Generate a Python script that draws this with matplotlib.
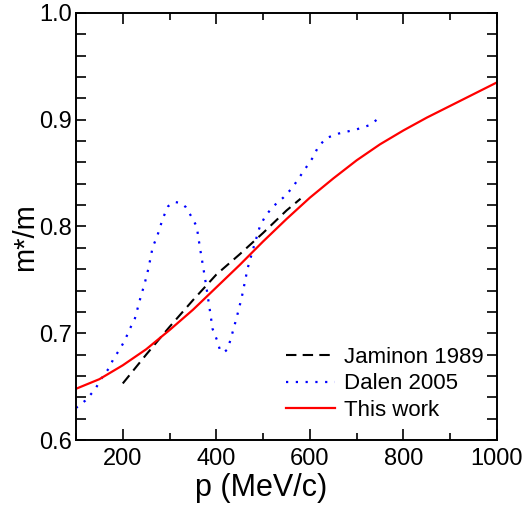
import matplotlib
matplotlib.use("Agg")
import matplotlib.pyplot as plt
from matplotlib.ticker import MultipleLocator

plt.rcParams['font.family'] = ['Liberation Sans', 'DejaVu Sans']

# Jaminon 1989 (dashed)
jam_p = [200, 250, 300, 350, 400, 450, 500, 550, 580]
jam_m = [0.653, 0.680, 0.706, 0.731, 0.755, 0.774, 0.794, 0.815, 0.826]

# Dalen 2005 (dotted)
dal_p = [100, 120, 140, 155, 170, 180, 195, 205, 215, 226, 237, 247, 255, 264,
         273, 280, 287, 297, 310, 325, 335, 347, 358, 365, 376, 386, 392, 401,
         408, 416, 424, 431, 443, 454, 467, 480, 493, 505, 522, 543, 562, 579,
         593, 607, 618, 636, 661, 700, 728, 746]
dal_m = [0.630, 0.637, 0.647, 0.658, 0.667, 0.676, 0.686, 0.694, 0.704, 0.714,
         0.732, 0.747, 0.761, 0.781, 0.790, 0.800, 0.809, 0.819, 0.823, 0.822,
         0.818, 0.809, 0.800, 0.780, 0.751, 0.722, 0.704, 0.694, 0.684, 0.682,
         0.685, 0.695, 0.714, 0.733, 0.761, 0.781, 0.800, 0.810, 0.819, 0.827,
         0.836, 0.847, 0.856, 0.865, 0.875, 0.883, 0.887, 0.891, 0.895, 0.901]

# This work (solid)
tw_p = [100, 150, 200, 250, 300, 350, 400, 450, 500, 550, 600, 650, 700, 750,
        800, 850, 900, 950, 1000]
tw_m = [0.648, 0.657, 0.670, 0.685, 0.703, 0.722, 0.743, 0.764, 0.786, 0.807,
        0.827, 0.845, 0.862, 0.877, 0.890, 0.902, 0.913, 0.924, 0.935]

fig = plt.figure(figsize=(5.29, 5.15), dpi=100)
ax = fig.add_axes([0.1437, 0.1456, 0.7958, 0.8292])

ax.plot(jam_p, jam_m, color='black', lw=1.5, linestyle=(0, (5, 3)), label='Jaminon 1989')
ax.plot(dal_p, dal_m, color='blue', lw=1.6, linestyle=(0, (1, 3.4)), label='Dalen 2005')
ax.plot(tw_p, tw_m, color='red', lw=1.6, label='This work')

ax.set_xlim(100, 1000)
ax.set_ylim(0.6, 1.0)
ax.xaxis.set_major_locator(MultipleLocator(200))
ax.xaxis.set_minor_locator(MultipleLocator(100))
ax.yaxis.set_major_locator(MultipleLocator(0.1))
ax.yaxis.set_minor_locator(MultipleLocator(0.02))
ax.tick_params(which='both', direction='in', top=True, right=True, width=1.2)
ax.tick_params(axis='x', which='major', length=8, labelsize=17, pad=6)
ax.tick_params(axis='x', which='minor', length=5)
ax.tick_params(axis='y', which='major', length=7, labelsize=17, pad=3)
ax.tick_params(axis='y', which='minor', length=7)
for s in ax.spines.values():
    s.set_linewidth(1.4)

ax.set_xlabel('p (MeV/c)', fontsize=22)
ax.set_ylabel('m*/m', fontsize=21)
ax.xaxis.set_label_coords(0.44, -0.077)
ax.yaxis.set_label_coords(-0.088, 0.475)

ax.legend(loc='lower right', frameon=False, fontsize=16, handlelength=2.2,
          handletextpad=0.4, labelspacing=0.25, borderaxespad=0,
          bbox_to_anchor=(0.99, 0.024))

fig.savefig('out.png', dpi=100)
